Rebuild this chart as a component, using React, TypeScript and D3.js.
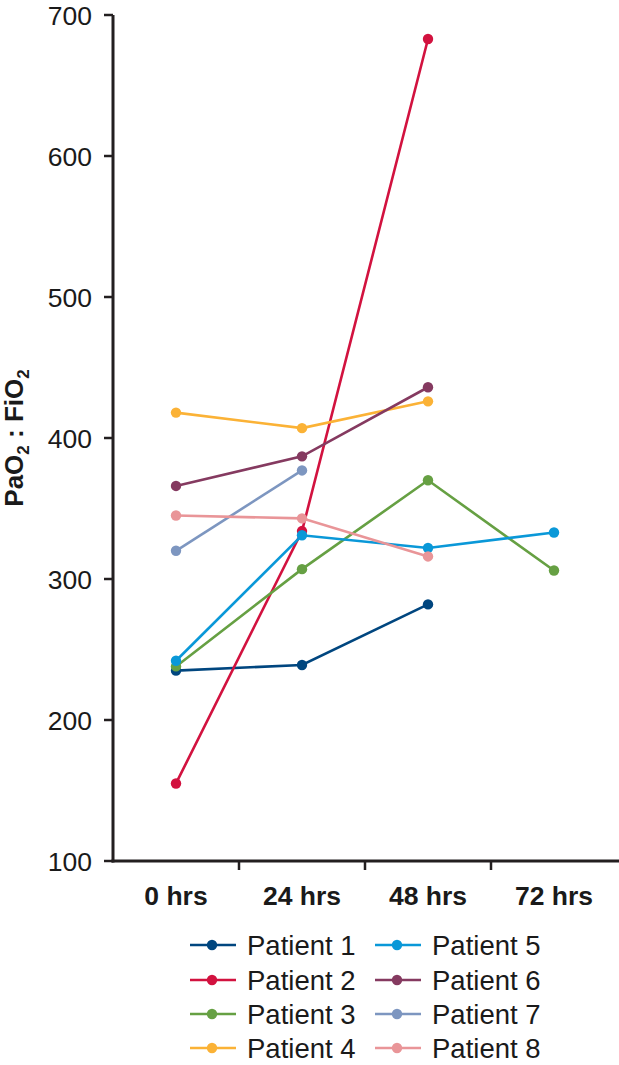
import React from "react";
import * as d3 from "d3";

const categories = ["0 hrs", "24 hrs", "48 hrs", "72 hrs"];
const yTicks = [100, 200, 300, 400, 500, 600, 700];
const patientNames = ["Patient 1", "Patient 2", "Patient 3", "Patient 4", "Patient 5", "Patient 6", "Patient 7", "Patient 8"];
const patientColors = ["#00467f", "#d2123f", "#66a043", "#fbb236", "#0a98d8", "#853a60", "#7d96c0", "#e99598"];
const patient1 = [235, 239, 282, null];
const patient2 = [155, 334, 683, null];
const patient3 = [238, 307, 370, 306];
const patient4 = [418, 407, 426, null];
const patient5 = [242, 331, 322, 333];
const patient6 = [366, 387, 436, null];
const patient7 = [320, 377, null, null];
const patient8 = [345, 343, 316, null];
const seriesValues = [patient1, patient2, patient3, patient4, patient5, patient6, patient7, patient8];

export default function App() {
  const W = 619, H = 1065;
  const x = d3.scaleBand().domain(categories).range([113, 617]);
  const y = d3.scaleLinear().domain([100, 700]).range([861, 15]);
  const font = "Liberation Sans, Arial, Helvetica, sans-serif";
  const axisColor = "#231f20";
  const line = d3
    .line<[string, number | null]>()
    .defined((d) => d[1] !== null)
    .x((d) => (x(d[0]) as number) + x.bandwidth() / 2)
    .y((d) => y(d[1] as number));

  const legendCols = [190, 375];
  const legendRows = [945, 980, 1014, 1048];

  return (
    <svg width={W} height={H} style={{ position: "absolute", left: 0, top: 0 }} fontFamily={font}>
      {/* y axis */}
      <line x1={113} x2={113} y1={y(700)} y2={y(100) + 1.5} stroke={axisColor} strokeWidth={3} />
      {yTicks.map((t) => (
        <g key={t}>
          <line x1={104} x2={113} y1={y(t)} y2={y(t)} stroke={axisColor} strokeWidth={2.5} />
          <text x={92} y={y(t)} dy="0.36em" textAnchor="end" fontSize={26.5} fill="#1a1a1a">
            {t}
          </text>
        </g>
      ))}
      {/* x axis */}
      <line x1={111.5} x2={619} y1={861} y2={861} stroke={axisColor} strokeWidth={3} />
      {categories.slice(1).map((c) => (
        <line key={c} x1={x(c) as number} x2={x(c) as number} y1={861} y2={870} stroke={axisColor} strokeWidth={2.5} />
      ))}
      {categories.map((c) => (
        <text
          key={c}
          x={(x(c) as number) + x.bandwidth() / 2}
          y={905}
          textAnchor="middle"
          fontSize={26.5}
          fontWeight="bold"
          fill="#1a1a1a"
        >
          {c}
        </text>
      ))}
      {/* y title */}
      <text
        transform={`translate(23, 438) rotate(-90)`}
        textAnchor="middle"
        fontSize={26}
        fontWeight="bold"
        fill="#1a1a1a"
      >
        PaO<tspan dy={6} fontSize={17}>2</tspan>
        <tspan dy={-6}> : FiO</tspan>
        <tspan dy={6} fontSize={17}>2</tspan>
      </text>
      {/* series */}
      {seriesValues.map((vals, i) => {
        const pts = categories.map((c, j) => [c, vals[j]] as [string, number | null]);
        return (
          <g key={i}>
            <path d={line(pts) || ""} fill="none" stroke={patientColors[i]} strokeWidth={2.6} />
            {pts
              .filter((p) => p[1] !== null)
              .map((p, j) => (
                <circle
                  key={j}
                  cx={(x(p[0]) as number) + x.bandwidth() / 2}
                  cy={y(p[1] as number)}
                  r={5.2}
                  fill={patientColors[i]}
                />
              ))}
          </g>
        );
      })}
      {/* legend */}
      {patientNames.map((n, i) => {
        const lx = legendCols[Math.floor(i / 4)];
        const ly = legendRows[i % 4];
        return (
          <g key={n}>
            <line x1={lx} x2={lx + 46} y1={ly} y2={ly} stroke={patientColors[i]} strokeWidth={2.6} />
            <circle cx={lx + 22} cy={ly} r={5.2} fill={patientColors[i]} />
            <text x={lx + 57} y={ly} dy="0.36em" fontSize={27.5} fill="#1a1a1a">
              {n}
            </text>
          </g>
        );
      })}
    </svg>
  );
}
